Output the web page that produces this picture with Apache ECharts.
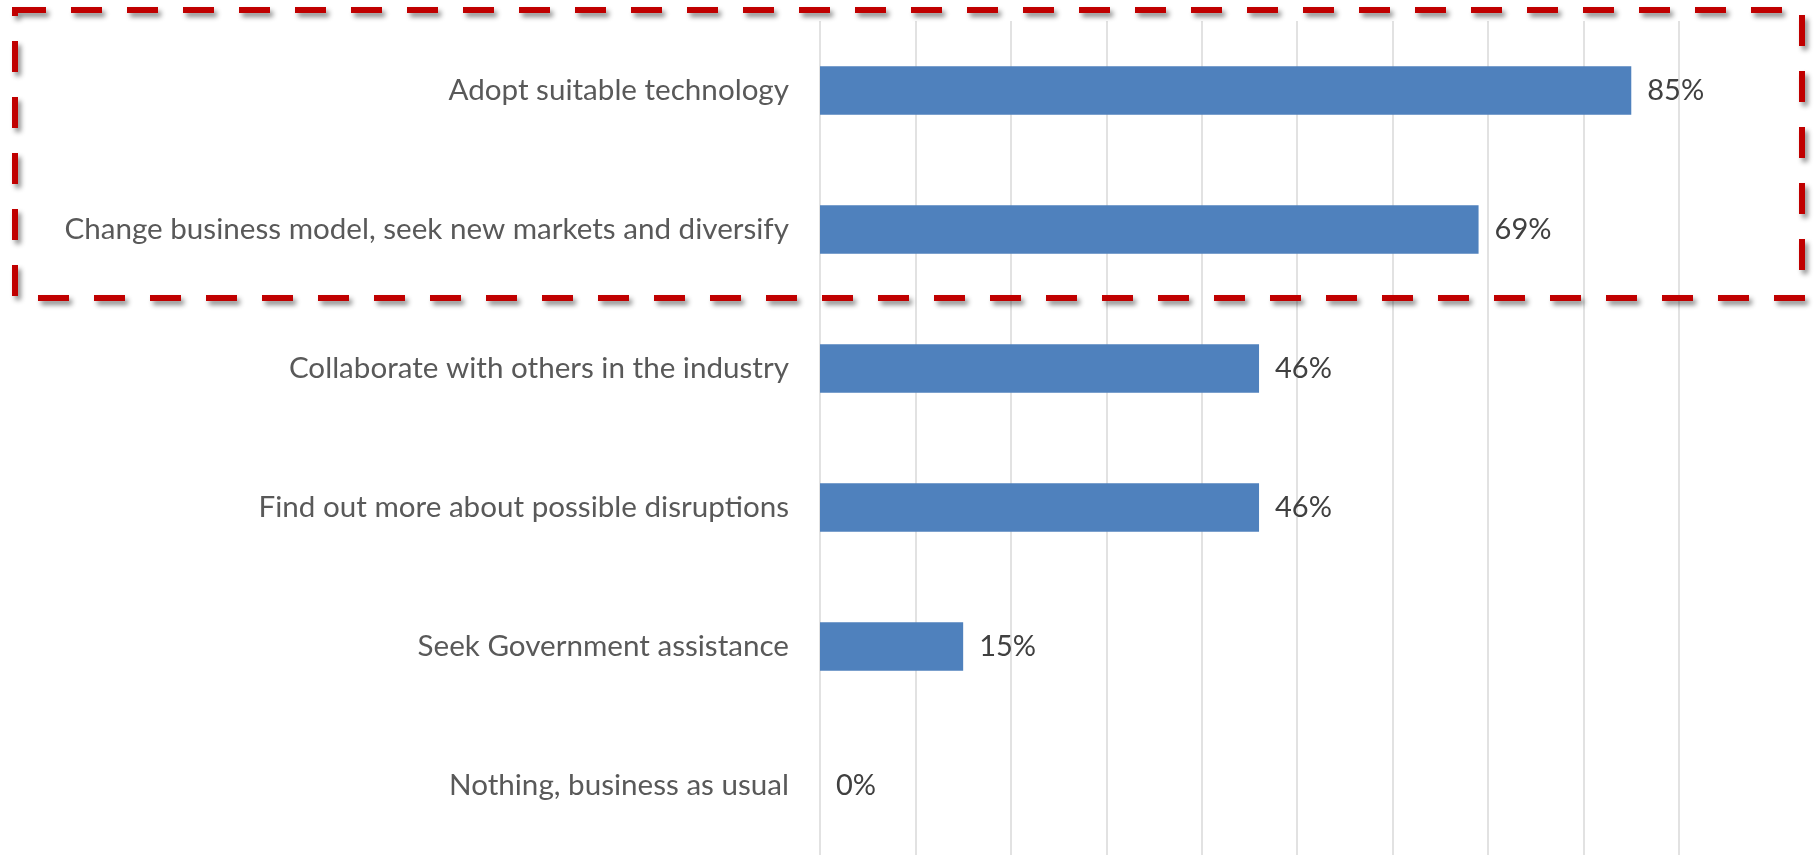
<!DOCTYPE html>
<html>
<head>
<meta charset="utf-8">
<script src="https://cdn.jsdelivr.net/npm/echarts@6/dist/echarts.min.js"></script>
<style>
  html, body { margin: 0; padding: 0; background: #ffffff; }
  #chart { width: 1814px; height: 855px; }
</style>
</head>
<body>
<div id="chart"></div>
<script>
// Responses, top to bottom
const categories = [
  'Adopt suitable technology',
  'Change business model, seek new markets and diversify',
  'Collaborate with others in the industry',
  'Find out more about possible disruptions',
  'Seek Government assistance',
  'Nothing, business as usual'
];
// Share of respondents (%)
const shares = [85, 69, 46, 46, 15, 0];
const axisMax = 90;
const axisStep = 10;

const chart = echarts.init(document.getElementById('chart'), null, { renderer: 'canvas' });

chart.setOption({
  animation: false,
  backgroundColor: '#ffffff',
  textStyle: { fontFamily: 'Lato, "Open Sans", sans-serif' },
  grid: { left: 820, right: 135, top: 21, height: 836, containLabel: false },
  xAxis: {
    type: 'value',
    min: 0,
    max: axisMax,
    interval: axisStep,
    axisLabel: { show: false },
    axisLine: { show: false },
    axisTick: { show: false },
    splitLine: { show: true, lineStyle: { color: '#d9d9d9', width: 1.5 } }
  },
  yAxis: {
    type: 'category',
    data: categories,
    inverse: true,
    axisLine: { show: false },
    axisTick: { show: false },
    axisLabel: {
      margin: 31,
      fontSize: 29.6,
      color: '#595959',
      fontFamily: 'Lato, "Open Sans", sans-serif'
    }
  },
  series: [{
    type: 'bar',
    data: shares,
    barCategoryGap: '65%',
    itemStyle: { color: '#4f81bd' },
    label: {
      show: true,
      position: 'right',
      distance: 16,
      fontSize: 29,
      color: '#404040',
      fontFamily: 'Lato, "Open Sans", sans-serif',
      formatter: p => p.value + '%'
    }
  }],
  graphic: [{
    type: 'rect',
    z: 100,
    shape: { x: 15, y: 10, width: 1787, height: 288 },
    style: {
      fill: 'none',
      stroke: '#c00000',
      lineWidth: 6,
      lineDash: [31, 25],
      shadowBlur: 5,
      shadowColor: 'rgba(0,0,0,0.45)',
      shadowOffsetX: 3,
      shadowOffsetY: 4
    }
  }]
});
</script>
</body>
</html>
